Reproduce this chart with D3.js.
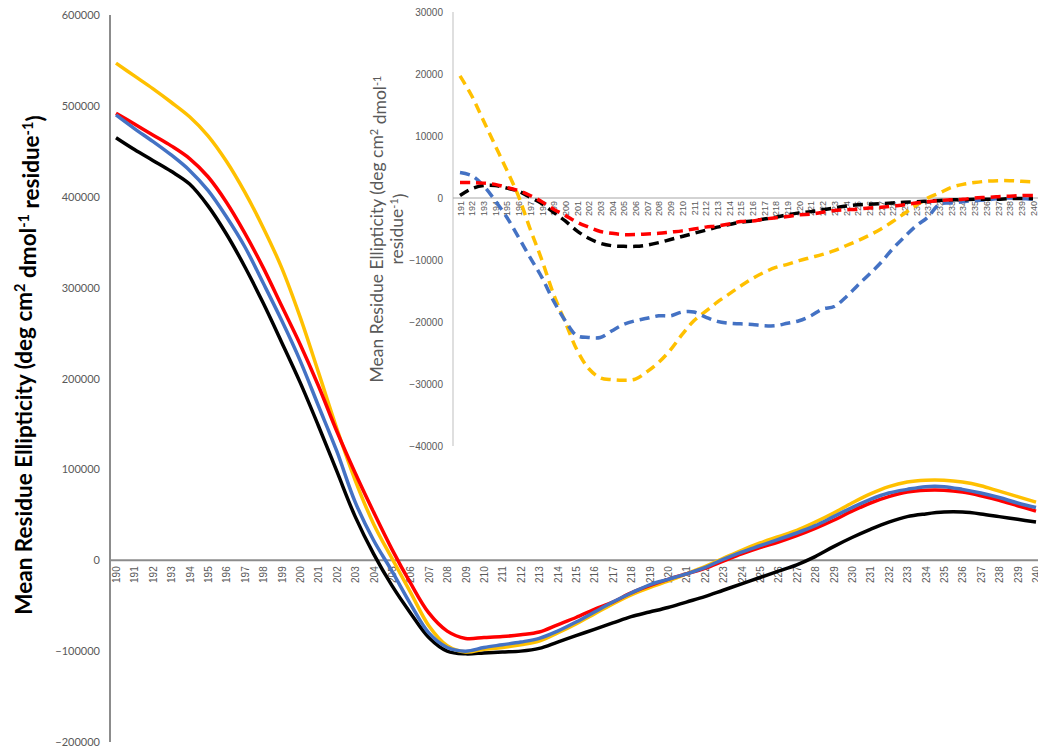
<!DOCTYPE html>
<html>
<head>
<meta charset="utf-8">
<script src="https://cdn.jsdelivr.net/npm/d3@7"></script>
<style>
  body { margin: 0; background: #fff; }
  svg { display: block; font-family: Lato, "Open Sans", sans-serif; }
</style>
</head>
<body>
<svg id="chart" width="1038" height="751"></svg>
<script>
// wavelengths (nm)
const wavelengths = d3.range(190, 241);
const insetWavelengths = d3.range(191, 241);

// main spectra, 190-240 nm
const mainYellow = [547000, 533000, 519000, 504000, 488000, 467000, 439000, 405000, 366000, 322000,
  268000, 207000, 145000, 88000, 40000, 2000, -35000, -72000, -94000, -101000,
  -98000, -96000, -93000, -89000, -80000, -70000, -59000, -48000, -38000, -30000,
  -23000, -15000, -7000, 2000, 11000, 19000, 26000, 33000, 42000, 52000,
  63000, 73000, 81000, 86000, 88000, 88000, 86000, 82000, 76000, 70000, 64000];
const mainRed = [492000, 480000, 468000, 456000, 442000, 422000, 394000, 360000, 322000, 280000,
  238000, 192000, 142000, 96000, 53000, 12000, -25000, -58000, -78000, -86000,
  -85000, -84000, -82000, -79000, -71000, -63000, -54000, -46000, -36000, -28000,
  -21000, -15000, -9000, -1000, 7000, 14000, 20000, 27000, 35000, 44000,
  54000, 63000, 70000, 75000, 77000, 77000, 75000, 71000, 66000, 60000, 54000];
const mainBlue = [490000, 475000, 461000, 446000, 429000, 407000, 378000, 345000, 305000, 264000,
  220000, 170000, 120000, 64000, 22000, -12000, -48000, -80000, -96000, -100000,
  -96000, -93000, -90000, -86000, -78000, -68000, -57000, -46000, -36000, -27000,
  -21000, -15000, -8000, 1000, 9000, 16000, 23000, 30000, 38000, 48000,
  58000, 67000, 74000, 78000, 81000, 81000, 78000, 74000, 69000, 63000, 58000];
const mainBlack = [465000, 452000, 440000, 428000, 414000, 390000, 359000, 323000, 283000, 240000,
  196000, 148000, 98000, 48000, 7000, -28000, -58000, -85000, -100000, -103000,
  -102000, -101000, -100000, -97000, -90000, -83000, -76000, -69000, -62000, -57000,
  -52000, -46000, -40000, -33000, -26000, -19000, -12000, -5000, 4000, 15000,
  25000, 34000, 42000, 48000, 51000, 53000, 53000, 51000, 48000, 45000, 42000];

// inset difference spectra, 191-240 nm
const insetYellow = [19700, 16500, 12500, 8500, 4500, 300, -5000, -10000, -15500, -20000,
  -24500, -27500, -29000, -29300, -29400, -29200, -28000, -26500, -24500, -22000,
  -19800, -18300, -16800, -15500, -14200, -13000, -12000, -11200, -10700, -10100,
  -9600, -9100, -8500, -7700, -6900, -6000, -5000, -3800, -2500, -1200,
  0, 800, 1700, 2200, 2500, 2700, 2800, 2800, 2700, 2600];
const insetBlue = [4100, 3600, 2000, -400, -3100, -6300, -9600, -12800, -16600, -19800,
  -22200, -22500, -22500, -21400, -20400, -19800, -19400, -19000, -19000, -18400,
  -18400, -19200, -19900, -20200, -20300, -20400, -20600, -20600, -20200, -19800,
  -19000, -17900, -17500, -16000, -14100, -12300, -10400, -8200, -6300, -4500,
  -3100, -1000, -800, -600, -400, -300, -100, 0, -100, -200];
const insetRed = [2500, 2500, 2400, 2200, 1700, 1200, 400, -600, -1800, -2800,
  -3900, -4700, -5400, -5700, -5900, -5900, -5800, -5700, -5500, -5300,
  -5000, -4700, -4500, -4200, -3800, -3700, -3400, -3200, -3000, -2700,
  -2600, -2300, -2000, -1900, -1800, -1600, -1500, -1300, -1100, -800,
  -600, -400, -300, -200, 0, 100, 200, 300, 400, 400];
const insetBlack = [400, 1500, 2000, 2000, 1600, 1100, 100, -900, -2300, -3700,
  -5300, -6500, -7300, -7700, -7800, -7800, -7600, -7200, -6700, -6200,
  -5700, -5200, -4700, -4300, -3900, -3700, -3400, -3100, -2700, -2400,
  -2200, -1900, -1600, -1300, -1100, -1000, -900, -800, -700, -600,
  -500, -400, -300, -300, -200, -200, -200, -100, -100, -100];

const mainTicks = [-200000, -100000, 0, 100000, 200000, 300000, 400000, 500000, 600000];
const insetTicks = [-40000, -30000, -20000, -10000, 0, 10000, 20000, 30000];

const colors = { yellow: '#FFC000', red: '#FF0000', blue: '#4472C4', black: '#000000' };
const tickGrey = '#595959';

const svg = d3.select('#chart');

// ---------- main chart ----------
const x = d3.scalePoint().domain(wavelengths).range([116, 1036]);
const y = d3.scaleLinear().domain([-200000, 600000]).range([742, 15]);

svg.append('line')
  .attr('x1', 110).attr('x2', 110)
  .attr('y1', y(600000)).attr('y2', y(-200000))
  .attr('stroke', '#8c8c8c').attr('stroke-width', 2);
svg.append('line')
  .attr('x1', 110).attr('x2', 1038)
  .attr('y1', y(0)).attr('y2', y(0))
  .attr('stroke', '#8c8c8c').attr('stroke-width', 2);

const yAxis = svg.append('g')
  .attr('transform', 'translate(100,0)')
  .call(d3.axisLeft(y).tickValues(mainTicks).tickSize(0).tickPadding(0).tickFormat(d3.format('d')));
yAxis.select('.domain').remove();
yAxis.selectAll('text')
  .attr('fill', tickGrey).style('font-size', '11px').style('font-family', 'Lato, sans-serif');

const xAxis = svg.append('g')
  .attr('transform', `translate(0,${y(0)})`)
  .call(d3.axisBottom(x).tickSize(0));
xAxis.select('.domain').remove();
xAxis.selectAll('text')
  .attr('fill', tickGrey).style('font-size', '10px')
  .attr('transform', 'rotate(-90)')
  .attr('text-anchor', 'end')
  .attr('x', -6).attr('y', 0).attr('dy', '0.35em');

const mainLine = vals => d3.line()
  .x((d, i) => x(wavelengths[i]))
  .y(d => y(d))
  .curve(d3.curveCatmullRom.alpha(0.5))(vals);

[[mainBlack, colors.black], [mainYellow, colors.yellow], [mainRed, colors.red], [mainBlue, colors.blue]]
  .forEach(([vals, c]) => {
    svg.append('path')
      .attr('d', mainLine(vals))
      .attr('fill', 'none').attr('stroke', c)
      .attr('stroke-width', 3.5).attr('stroke-linejoin', 'round');
  });

const mainLabel = svg.append('text')
  .attr('transform', 'translate(32,365) rotate(-90)')
  .attr('text-anchor', 'middle')
  .attr('font-weight', 'bold').attr('font-size', 22.5).attr('fill', '#000');
mainLabel.append('tspan').text('Mean Residue Ellipticity (deg cm');
mainLabel.append('tspan').attr('dy', '-0.45em').attr('font-size', 14.5).text('2');
mainLabel.append('tspan').attr('dy', '0.45em').text(' dmol');
mainLabel.append('tspan').attr('dy', '-0.45em').attr('font-size', 14.5).text('-1');
mainLabel.append('tspan').attr('dy', '0.45em').text(' residue');
mainLabel.append('tspan').attr('dy', '-0.45em').attr('font-size', 14.5).text('-1');
mainLabel.append('tspan').attr('dy', '0.45em').text(')');

// ---------- inset ----------
const ix = d3.scalePoint().domain(insetWavelengths).range([460, 1033]);
const iy = d3.scaleLinear().domain([-40000, 30000]).range([446, 12]);

svg.append('line')
  .attr('x1', 453).attr('x2', 453)
  .attr('y1', iy(30000)).attr('y2', iy(-40000))
  .attr('stroke', '#bfbfbf').attr('stroke-width', 1);
svg.append('line')
  .attr('x1', 453).attr('x2', 1038)
  .attr('y1', iy(0)).attr('y2', iy(0))
  .attr('stroke', '#a6a6a6').attr('stroke-width', 1);

const iyAxis = svg.append('g')
  .attr('transform', 'translate(443,0)')
  .call(d3.axisLeft(iy).tickValues(insetTicks).tickSize(0).tickPadding(0).tickFormat(d3.format('d')));
iyAxis.select('.domain').remove();
iyAxis.selectAll('text')
  .attr('fill', tickGrey).style('font-size', '10px');

const ixAxis = svg.append('g')
  .attr('transform', `translate(0,${iy(0)})`)
  .call(d3.axisBottom(ix).tickSize(0));
ixAxis.select('.domain').remove();
ixAxis.selectAll('text')
  .attr('fill', tickGrey).style('font-size', '9px')
  .attr('transform', 'rotate(-90)')
  .attr('text-anchor', 'end')
  .attr('x', -3).attr('y', 0).attr('dy', '0.35em');

const insetLine = vals => d3.line()
  .x((d, i) => ix(insetWavelengths[i]))
  .y(d => iy(d))
  .curve(d3.curveCatmullRom.alpha(0.5))(vals);

[[insetYellow, colors.yellow], [insetBlue, colors.blue], [insetBlack, colors.black], [insetRed, colors.red]]
  .forEach(([vals, c]) => {
    svg.append('path')
      .attr('d', insetLine(vals))
      .attr('fill', 'none').attr('stroke', c)
      .attr('stroke-width', 3.5).attr('stroke-dasharray', '10,6');
  });

const insetLabel = svg.append('text')
  .attr('transform', 'translate(383,229) rotate(-90)')
  .attr('text-anchor', 'middle')
  .attr('font-size', 17.5).attr('fill', tickGrey);
insetLabel.append('tspan').text('Mean Residue Ellipticity (deg cm');
insetLabel.append('tspan').attr('dy', '-0.45em').attr('font-size', 11).text('2');
insetLabel.append('tspan').attr('dy', '0.45em').text(' dmol');
insetLabel.append('tspan').attr('dy', '-0.45em').attr('font-size', 11).text('-1');
const insetLabel2 = svg.append('text')
  .attr('transform', 'translate(403,229) rotate(-90)')
  .attr('text-anchor', 'middle')
  .attr('font-size', 17.5).attr('fill', tickGrey);
insetLabel2.append('tspan').text('residue');
insetLabel2.append('tspan').attr('dy', '-0.45em').attr('font-size', 11).text('-1');
insetLabel2.append('tspan').attr('dy', '0.45em').text(')');
</script>
</body>
</html>
